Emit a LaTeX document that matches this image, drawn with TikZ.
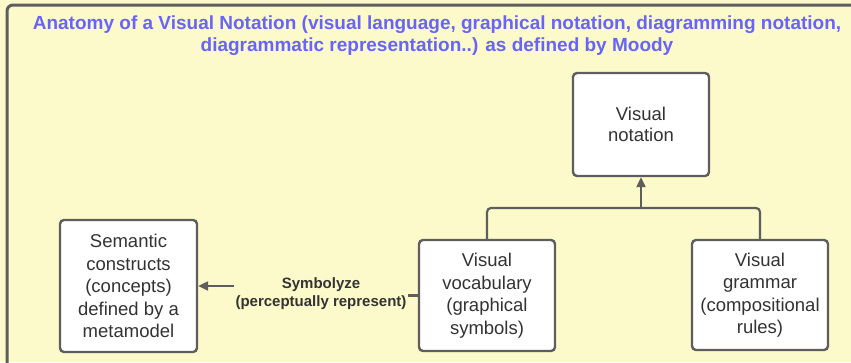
\documentclass[tikz,border=0pt]{standalone}
\usepackage{fontspec}
\setmainfont{Liberation Sans}
\usetikzlibrary{positioning,arrows.meta}
\definecolor{paper}{RGB}{252,250,202}
\definecolor{edge}{RGB}{94,94,94}
\definecolor{ink}{RGB}{51,51,51}
\definecolor{headline}{RGB}{104,100,250}
\begin{document}
\begin{tikzpicture}[x=1pt,y=1pt,
						part/.style={draw=edge,line width=2.4pt,fill=white,rounded corners=4pt,align=center,text=ink,inner sep=0pt,minimum width=136pt,font=\fontsize{18.5}{22.5}\selectfont},
						conn/.style={draw=edge,line width=2.2pt,rounded corners=4pt},
						arr/.style={conn,-{Triangle[length=10pt,width=9pt]}},
						verb/.style={align=center,text=ink,font=\fontsize{15}{18}\selectfont\bfseries,inner sep=1pt}]
		\clip (0,0) rectangle (851,-362);
		\fill[paper] (0,0) rectangle (851,-362);
		\draw[edge,line width=3pt,rounded corners=6pt] (7,-5) rectangle (880,-390);
		\node[text=headline,align=center,font=\fontsize{19}{21.5}\selectfont\bfseries] (title) at (437,-35.5)
			{Anatomy of a Visual Notation (visual language, graphical notation, diagramming notation,\\diagrammatic representation..) as defined by Moody};

		\node[part,minimum height=103pt,font=\fontsize{18.5}{21}\selectfont]	(notation)	at (641,-124.5)	{Visual\\notation};
		\node[part,minimum height=111pt]	(voc)		at (487,-295.5)	{Visual\\vocabulary\\(graphical\\symbols)};
		\node[part,minimum height=110pt]	(gram)		at (760,-295)	{Visual\\grammar\\(compositional\\rules)};
		\node[part,minimum height=132pt,minimum width=137pt]	(sem)	at (128.5,-286)	{Semantic\\constructs\\(concepts)\\defined by a\\metamodel};
		\node[verb]	(sym)	at (321,-294)	{Symbolyze\\(perceptually represent)};
		\coordinate (jn) at (notation.south |- 0,-208);

		\draw[conn] (voc.north) |- (jn) -| (gram.north);
		\draw[arr] (jn) -- (notation.south);
		\draw[conn] (voc.west) -- (sym.east |- voc.west);
		\draw[arr] (sym.west |- sem.east) -- (sem.east);
	\end{tikzpicture}
\end{document}
